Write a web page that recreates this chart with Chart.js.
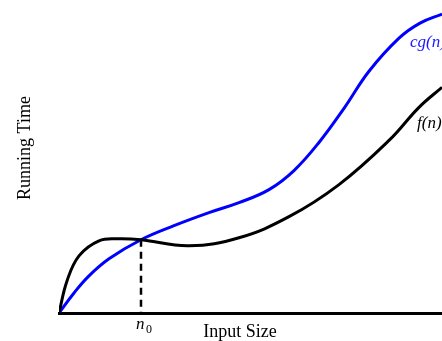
<!DOCTYPE html>
<html>
<head>
<meta charset="utf-8">
<script src="https://cdn.jsdelivr.net/npm/chart.js@4/dist/chart.umd.min.js"></script>
<style>
  html, body { margin: 0; padding: 0; background: #fff; }
  canvas { display: block; }
</style>
</head>
<body>
<canvas id="grafico" width="442" height="341"></canvas>
<script>
// curvas (unidades arbitrarias)
const cgX = [0, 15, 30, 50, 82, 115, 150, 180, 210, 235, 260, 285, 310, 340, 361, 383];
const cgY = [0, 20, 37, 54, 73, 87, 100, 110, 123, 142, 170, 204, 241, 274, 289, 298];
const fX = [0, 8, 20, 40, 60, 82, 130, 180, 230, 280, 330, 360, 383];
const fY = [0, 32, 57, 72, 74, 73, 67, 75, 96, 128, 172, 205, 225];
const n0 = 82;
const n0Y = 73;

const pontos = (xs, ys) => xs.map((x, i) => ({ x: x, y: ys[i] }));

// textos da figura (eixos, n0, nomes das curvas)
const textos = {
  id: 'textos',
  afterDraw(chart) {
    const ctx = chart.ctx;
    const x = chart.scales.x;
    ctx.save();
    ctx.fillStyle = '#000';
    ctx.font = '18px "Liberation Serif"';
    ctx.textAlign = 'center';
    ctx.textBaseline = 'alphabetic';
    ctx.fillText('Input Size', 240, 337);

    ctx.save();
    ctx.translate(30, 148);
    ctx.rotate(-Math.PI / 2);
    ctx.fillText('Running Time', 0, 0);
    ctx.restore();

    // n0 com subscrito
    const px = x.getPixelForValue(n0);
    ctx.textAlign = 'left';
    ctx.font = 'italic 17px "Liberation Serif"';
    ctx.fillText('n', px - 5, 329);
    ctx.font = '12px "Liberation Serif"';
    ctx.fillText('0', px + 5, 333);

    ctx.font = 'italic 17px "Liberation Serif"';
    ctx.fillStyle = '#1a1aff';
    ctx.fillText('cg(n)', 410, 47);
    ctx.fillStyle = '#000';
    ctx.fillText('f(n)', 417, 128);
    ctx.restore();
  }
};

new Chart(document.getElementById('grafico'), {
  type: 'line',
  data: {
    datasets: [
      {
        label: 'f(n)',
        data: pontos(fX, fY),
        borderColor: '#000',
        borderWidth: 3,
        pointRadius: 0,
        tension: 0.4
      },
      {
        label: 'cg(n)',
        data: pontos(cgX, cgY),
        borderColor: '#0000ff',
        borderWidth: 3,
        pointRadius: 0,
        tension: 0.4
      },
      {
        label: 'n0',
        data: [{ x: n0, y: n0Y }, { x: n0, y: 0 }],
        borderColor: '#000',
        borderWidth: 2.5,
        borderDash: [7, 5],
        pointRadius: 0
      }
    ]
  },
  options: {
    responsive: false,
    animation: false,
    layout: { padding: { left: 59, right: 0, top: 0, bottom: 0 } },
    plugins: { legend: { display: false }, tooltip: { enabled: false } },
    scales: {
      x: {
        type: 'linear',
        min: 0,
        max: 383,
        grid: { display: false, drawTicks: false },
        ticks: { display: false },
        border: { display: true, color: '#000', width: 3 },
        afterFit: (s) => { s.height = 28; }
      },
      y: {
        display: false,
        min: 0,
        max: 312
      }
    }
  },
  plugins: [textos]
});
</script>
</body>
</html>
